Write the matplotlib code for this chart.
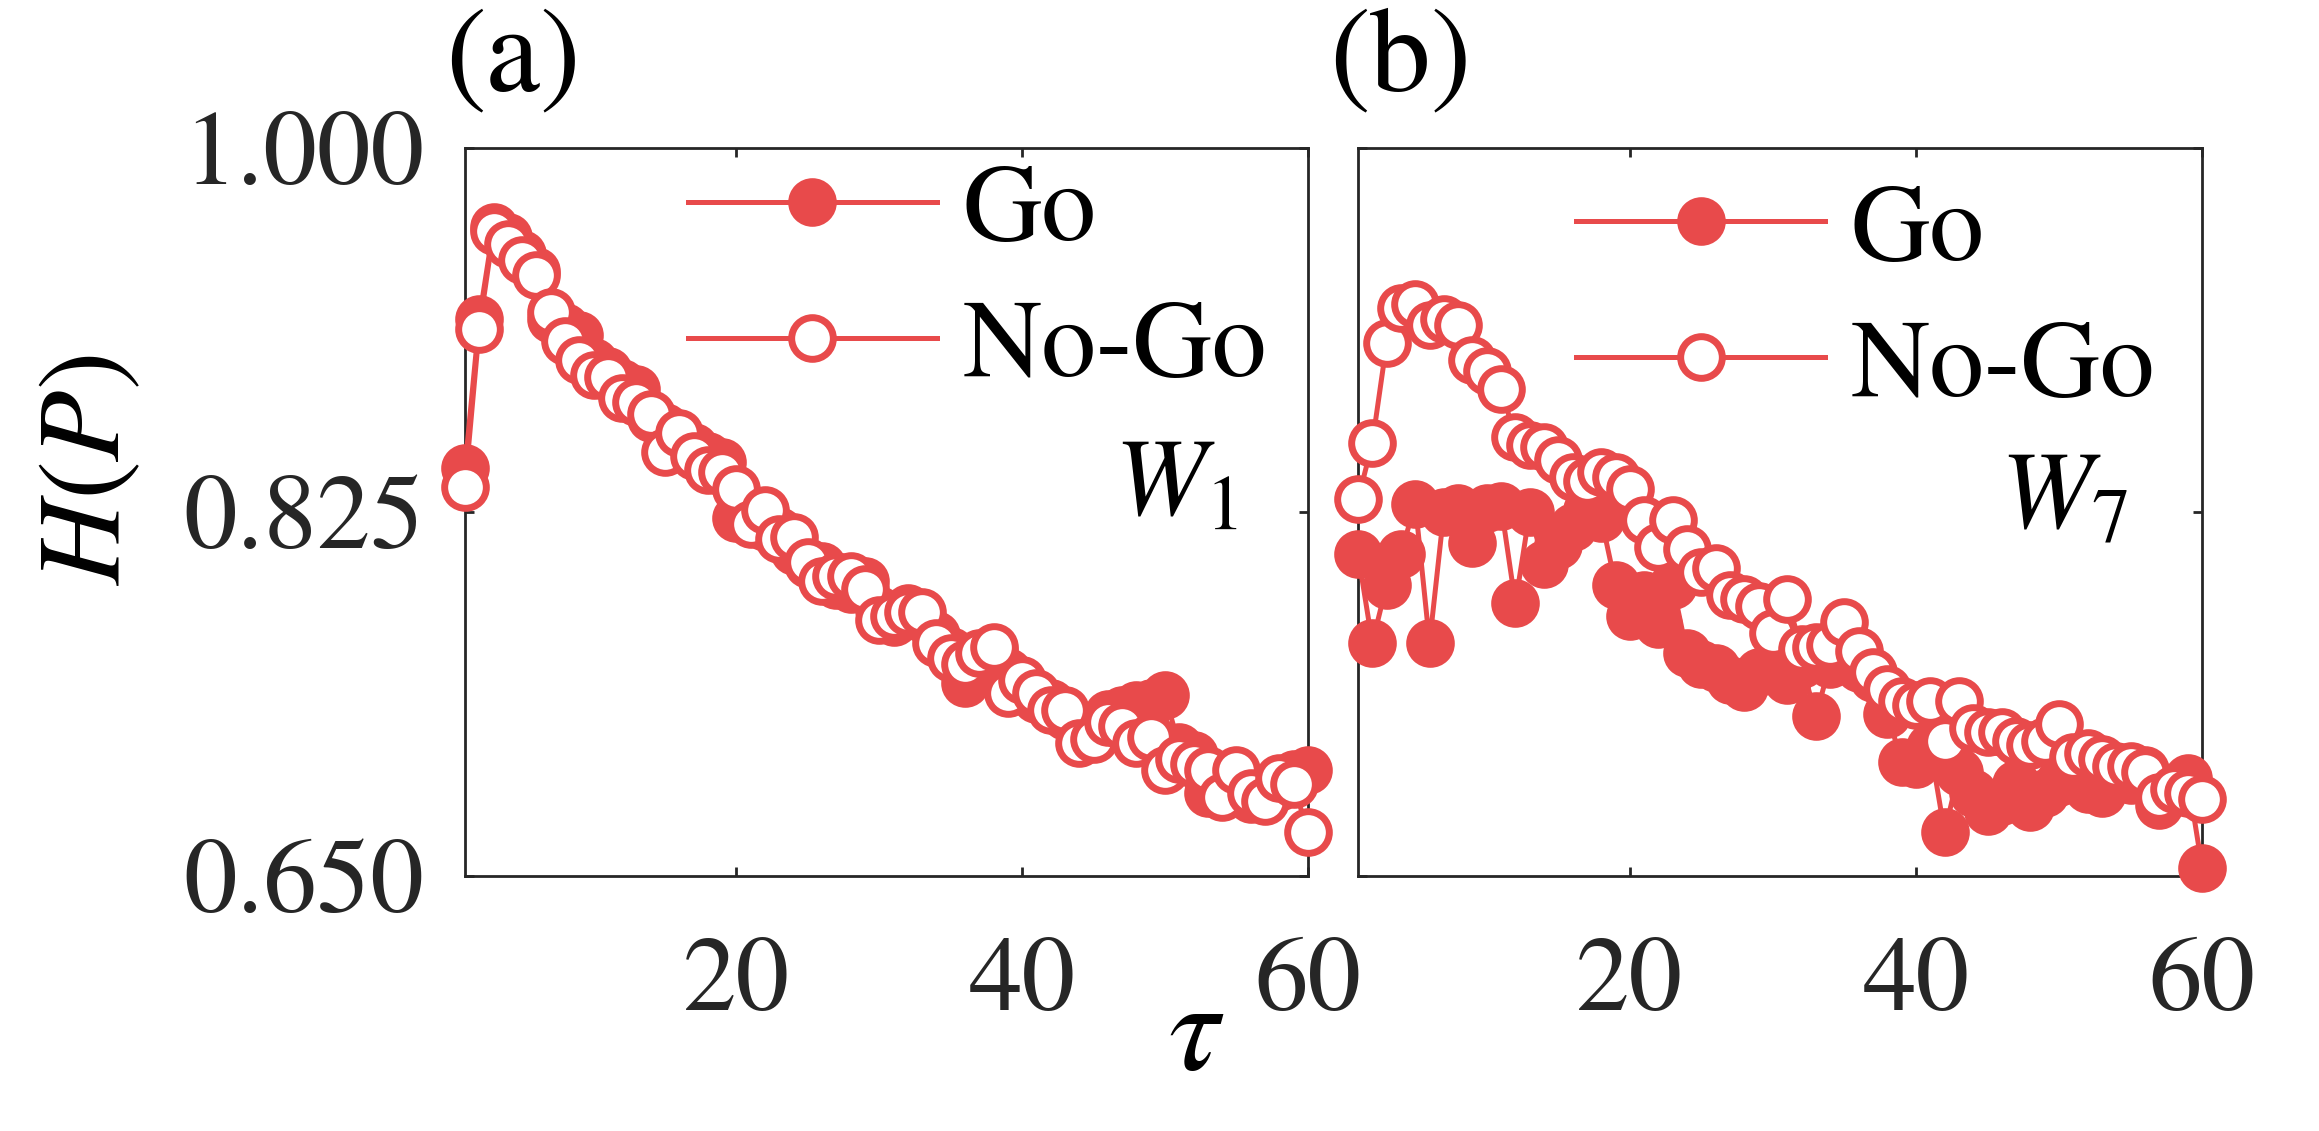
import numpy as np
import matplotlib
matplotlib.use("Agg")
import matplotlib.pyplot as plt

plt.rcParams['font.family'] = ['STIXGeneral', 'DejaVu Sans']
plt.rcParams['mathtext.fontset'] = 'stix'

tau = np.arange(1, 61)

# panel (a), W1
go_a = [0.846, 0.918, 0.962, 0.957, 0.949, 0.941, 0.918, 0.914, 0.910, 0.897,
        0.893, 0.887, 0.884, 0.870, 0.866, 0.860, 0.856, 0.852, 0.849, 0.822,
        0.826, 0.818, 0.816, 0.806, 0.800, 0.799, 0.790, 0.788, 0.792, 0.778,
        0.772, 0.779, 0.774, 0.766, 0.758, 0.743, 0.754, 0.758, 0.748, 0.741,
        0.735, 0.733, 0.727, 0.722, 0.720, 0.728, 0.730, 0.732, 0.733, 0.737,
        0.712, 0.708, 0.690, 0.693, 0.698, 0.687, 0.691, 0.693, 0.699, 0.701]
nogo_a = [0.837, 0.913, 0.960, 0.954, 0.946, 0.939, 0.921, 0.907, 0.898, 0.891,
          0.890, 0.880, 0.878, 0.872, 0.854, 0.863, 0.852, 0.845, 0.844, 0.836,
          0.819, 0.826, 0.812, 0.813, 0.801, 0.792, 0.794, 0.794, 0.788, 0.773,
          0.775, 0.777, 0.777, 0.762, 0.755, 0.752, 0.757, 0.760, 0.738, 0.744,
          0.738, 0.730, 0.730, 0.714, 0.716, 0.724, 0.722, 0.714, 0.717, 0.701,
          0.706, 0.704, 0.701, 0.688, 0.701, 0.690, 0.686, 0.697, 0.694, 0.671]

# panel (b), W7
go_b = [0.805, 0.762, 0.790, 0.805, 0.829, 0.762, 0.825, 0.827, 0.810, 0.827,
        0.828, 0.781, 0.825, 0.800, 0.809, 0.818, 0.826, 0.822, 0.790, 0.775,
        0.785, 0.771, 0.790, 0.757, 0.752, 0.750, 0.744, 0.741, 0.748, 0.752,
        0.744, 0.752, 0.727, 0.752, 0.755, 0.750, 0.745, 0.728, 0.705, 0.704,
        0.712, 0.671, 0.700, 0.690, 0.681, 0.686, 0.694, 0.683, 0.690, 0.695,
        0.698, 0.692, 0.690, 0.700, 0.696, 0.701, 0.684, 0.693, 0.697, 0.654]
nogo_b = [0.831, 0.858, 0.906, 0.923, 0.925, 0.915, 0.918, 0.915, 0.898, 0.893,
          0.884, 0.861, 0.857, 0.856, 0.850, 0.842, 0.840, 0.844, 0.842, 0.836,
          0.821, 0.808, 0.821, 0.807, 0.796, 0.798, 0.785, 0.783, 0.780, 0.767,
          0.783, 0.759, 0.760, 0.761, 0.772, 0.758, 0.748, 0.740, 0.734, 0.732,
          0.734, 0.715, 0.734, 0.721, 0.719, 0.719, 0.715, 0.713, 0.715, 0.723,
          0.707, 0.709, 0.706, 0.703, 0.703, 0.700, 0.688, 0.692, 0.690, 0.687]

xticks = [20, 40, 60]
yticks = [0.650, 0.825, 1.000]
ytick_labels = ['0.650', '0.825', '1.000']

red = '#E84A4B'
dark = '#262626'
fs = 77

fig = plt.figure(figsize=(23.19, 11.31), dpi=100)
ax_a = fig.add_axes([0.2005, 0.2255, 0.3635, 0.6437])
ax_b = fig.add_axes([0.5856, 0.2255, 0.3640, 0.6437])

def draw(ax, go, nogo, wlabel, wpos, legpos):
    ax.plot(tau, go, '-o', color=red, lw=3.6, ms=30, mew=5, mfc=red, mec=red,
            clip_on=False, label='Go', zorder=3)
    ax.plot(tau, nogo, '-o', color=red, lw=3.6, ms=30, mew=5, mfc='white', mec=red,
            clip_on=False, label='No-Go', zorder=4)
    ax.set_xlim(1, 60)
    ax.set_ylim(0.65, 1.0)
    ax.set_xticks(xticks)
    ax.set_yticks(yticks)
    ax.tick_params(direction='in', length=6.5, width=2, colors=dark, labelsize=fs,
                   top=True, right=True)
    ax.tick_params(axis='x', pad=44)
    ax.tick_params(axis='y', pad=29)
    for s in ax.spines.values():
        s.set_linewidth(2)
        s.set_color(dark)
    ax.legend(loc='upper left', bbox_to_anchor=legpos, frameon=False,
              fontsize=79, handlelength=2.27, handletextpad=0.23,
              labelspacing=0.32, borderpad=0, borderaxespad=0)
    ax.text(wpos[0], wpos[1], wlabel, transform=ax.transAxes, fontsize=79,
            ha='left', va='baseline')

draw(ax_a, go_a, nogo_a, '$W_1$', (0.770, 0.494), (0.2645, 0.979))
draw(ax_b, go_b, nogo_b, '$W_7$', (0.761, 0.477), (0.2583, 0.952))

ax_a.set_yticklabels(ytick_labels)
ax_b.set_yticklabels([])

ax_a.set_ylabel('$H(P)$', fontsize=84)
ax_a.yaxis.set_label_coords(-0.380, 0.558)

fig.text(0.516, 0.080, r'$\tau$', fontsize=92, ha='center', va='center')
fig.text(0.192, 0.920, '(a)', fontsize=88, ha='left', va='baseline')
fig.text(0.573, 0.920, '(b)', fontsize=88, ha='left', va='baseline')

fig.savefig('out.png', dpi=100)
